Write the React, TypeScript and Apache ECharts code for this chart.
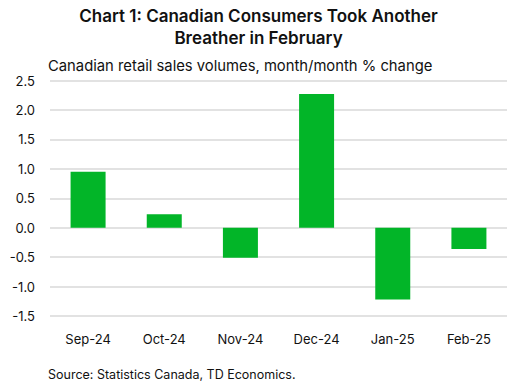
import React, { useEffect, useRef } from "react";
import * as echarts from "echarts";

const categories = ["Sep-24", "Oct-24", "Nov-24", "Dec-24", "Jan-25", "Feb-25"];
const values = [0.95, 0.23, -0.51, 2.27, -1.22, -0.36];
const titleLines = ["Chart 1: Canadian Consumers Took Another", "Breather in February"];
const subtitle = "Canadian retail sales volumes, month/month % change";
const source = "Source: Statistics Canada, TD Economics.";

const FONT = "Inter, 'Noto Sans', sans-serif";

export default function App() {
  const ref = useRef<HTMLDivElement>(null);
  useEffect(() => {
    document.body.style.margin = "0";
    const chart = echarts.init(ref.current!, null, { renderer: "svg" });
    chart.setOption({
      animation: false,
      textStyle: { fontFamily: FONT },
      title: {
        text: titleLines.join("\n"),
        left: "center",
        top: 0,
        textStyle: { fontFamily: FONT, fontSize: 17, fontWeight: 600, color: "#111", lineHeight: 22, align: "center" },
      },
      graphic: [
        { type: "text", left: 48, top: 58, style: { text: subtitle, font: `14.8px ${FONT}`, fill: "#111" } },
        { type: "text", left: 48, top: 368, style: { text: source, font: `12.5px ${FONT}`, fill: "#111" } },
      ],
      grid: { left: 50, right: 10, top: 80.5, bottom: 70, containLabel: false },
      xAxis: {
        type: "category",
        data: categories,
        axisLine: { show: false },
        axisTick: { show: false },
        axisLabel: { color: "#111", fontSize: 13, margin: 16, fontFamily: FONT },
      },
      yAxis: {
        type: "value",
        min: -1.5,
        max: 2.5,
        interval: 0.5,
        axisLine: { show: false },
        axisTick: { show: false },
        axisLabel: {
          color: "#111",
          fontSize: 13,
          margin: 15,
          fontFamily: FONT,
          formatter: (v: number) => v.toFixed(1),
        },
        splitLine: { lineStyle: { color: "#d9d9d9", width: 1.5 } },
      },
      series: [
        {
          type: "bar",
          data: values,
          barWidth: 35,
          itemStyle: { color: "#02b528" },
        },
      ],
    });
    return () => chart.dispose();
  }, []);
  return <div ref={ref} style={{ position: "absolute", left: 0, top: 0, width: 517, height: 386 }} />;
}
